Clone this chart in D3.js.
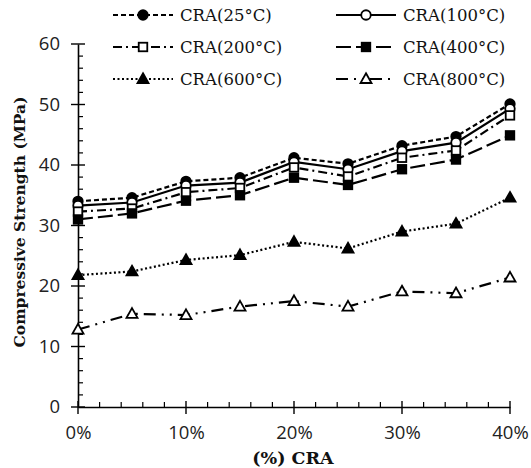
<!DOCTYPE html>
<html>
<head>
<meta charset="utf-8">
<script src="https://cdn.jsdelivr.net/npm/d3@7"></script>
<style>
html,body{margin:0;padding:0;background:#fff;}
svg{display:block;}
</style>
</head>
<body>
<svg id="chart" width="531" height="468"></svg>
<script>
const categories = [0, 5, 10, 15, 20, 25, 30, 35, 40];
const xTickValues = [0, 10, 20, 30, 40];
const yTickValues = [0, 10, 20, 30, 40, 50, 60];
const seriesNames = ["CRA(25°C)", "CRA(100°C)", "CRA(200°C)", "CRA(400°C)", "CRA(600°C)", "CRA(800°C)"];
const cra25  = [34.0, 34.6, 37.3, 37.9, 41.2, 40.2, 43.2, 44.7, 50.1];
const cra100 = [33.3, 33.8, 36.6, 37.1, 40.5, 39.3, 42.3, 43.7, 49.3];
const cra200 = [32.3, 32.8, 35.5, 36.2, 39.6, 38.1, 41.2, 42.4, 48.2];
const cra400 = [31.0, 32.0, 34.1, 35.0, 37.9, 36.7, 39.3, 40.9, 44.9];
const cra600 = [21.8, 22.4, 24.3, 25.1, 27.3, 26.2, 29.0, 30.3, 34.6];
const cra800 = [12.8, 15.4, 15.2, 16.6, 17.5, 16.6, 19.1, 18.8, 21.4];
const xTitle = "(%) CRA";
const yTitle = "Compressive Strength (MPa)";

const styles = [
  {dash: "5,3", marker: "circle", fill: "#000"},
  {dash: null, marker: "circle", fill: "#fff"},
  {dash: "9,4,2,4", marker: "square", fill: "#fff"},
  {dash: "15,5", marker: "square", fill: "#000"},
  {dash: "2,2.5", marker: "triangle", fill: "#000"},
  {dash: "12,6,2,6,2,6", marker: "triangle", fill: "#fff"}
];
const allSeries = [cra25, cra100, cra200, cra400, cra600, cra800];

const svg = d3.select("#chart");
const x = d3.scaleLinear().domain([0, 40]).range([78, 510]);
const y = d3.scaleLinear().domain([0, 60]).range([407, 44]);
const tickFont = "'Open Sans', sans-serif";
const serif = "'DejaVu Serif', serif";

// axes
const yAxis = d3.axisLeft(y).tickValues(yTickValues).tickSize(0).tickFormat(d3.format("d")).tickPadding(18);
const gy = svg.append("g").attr("transform", `translate(${x(0)},0)`).call(yAxis);
const xAxis = d3.axisBottom(x).tickValues(xTickValues).tickSize(0).tickFormat(d => d + "%").tickPadding(19);
const gx = svg.append("g").attr("transform", `translate(0,${y(0)})`).call(xAxis);
[gx, gy].forEach(g => {
  g.select(".domain").attr("stroke", "#000").attr("stroke-width", 1.6);
  g.selectAll("text").attr("font-family", tickFont).attr("font-size", 18.5).attr("fill", "#222");
});
// major ticks crossing, minor ticks inside
const minorY = d3.range(0, 61, 2).filter(v => v % 10 !== 0);
const minorX = d3.range(0, 41, 2).filter(v => v % 10 !== 0);
svg.append("g").selectAll("line").data(yTickValues).join("line")
  .attr("x1", x(0) - 7).attr("x2", x(0) + 7).attr("y1", d => y(d)).attr("y2", d => y(d))
  .attr("stroke", "#000").attr("stroke-width", 1.4);
svg.append("g").selectAll("line").data(minorY).join("line")
  .attr("x1", x(0)).attr("x2", x(0) + 5).attr("y1", d => y(d)).attr("y2", d => y(d))
  .attr("stroke", "#000").attr("stroke-width", 1.2);
svg.append("g").selectAll("line").data(xTickValues).join("line")
  .attr("x1", d => x(d)).attr("x2", d => x(d)).attr("y1", y(0) - 6).attr("y2", y(0) + 7)
  .attr("stroke", "#000").attr("stroke-width", 1.4);
svg.append("g").selectAll("line").data(minorX).join("line")
  .attr("x1", d => x(d)).attr("x2", d => x(d)).attr("y1", y(0) - 5).attr("y2", y(0))
  .attr("stroke", "#000").attr("stroke-width", 1.2);

// titles
svg.append("text").attr("x", 293).attr("y", 464).attr("text-anchor", "middle")
  .attr("font-family", serif).attr("font-weight", "bold").attr("font-size", 17.5).attr("fill", "#111").text(xTitle);
svg.append("text").attr("transform", "translate(25,222) rotate(-90)").attr("text-anchor", "middle")
  .attr("font-family", serif).attr("font-weight", "bold").attr("font-size", 15.5).attr("fill", "#111").text(yTitle);

function drawMarker(g, type, fill, cx, cy, s) {
  if (type === "circle") {
    g.append("circle").attr("cx", cx).attr("cy", cy).attr("r", s * 0.5)
      .attr("fill", fill).attr("stroke", "#000").attr("stroke-width", 1.8);
  } else if (type === "square") {
    g.append("rect").attr("x", cx - s * 0.45).attr("y", cy - s * 0.45).attr("width", s * 0.9).attr("height", s * 0.9)
      .attr("fill", fill).attr("stroke", "#000").attr("stroke-width", 1.8);
  } else {
    g.append("path").attr("d", `M${cx},${cy - s * 0.6}L${cx + s * 0.58},${cy + s * 0.42}L${cx - s * 0.58},${cy + s * 0.42}Z`)
      .attr("fill", fill).attr("stroke", "#000").attr("stroke-width", 1.8).attr("stroke-linejoin", "miter");
  }
}

const line = d3.line().x((d, i) => x(categories[i])).y(d => y(d));
allSeries.forEach((vals, k) => {
  const st = styles[k];
  const g = svg.append("g");
  g.append("path").attr("d", line(vals)).attr("fill", "none").attr("stroke", "#000")
    .attr("stroke-width", 2.2).attr("stroke-dasharray", st.dash);
  vals.forEach((v, i) => drawMarker(g, st.marker, st.fill, x(categories[i]), y(v), 9.5));
});

// legend
const legPos = [[113, 15], [336, 15], [113, 47], [336, 47], [113, 79], [336, 79]];
seriesNames.forEach((name, k) => {
  const st = styles[k];
  const [lx, ly] = legPos[k];
  const g = svg.append("g");
  g.append("line").attr("x1", lx).attr("x2", lx + 60).attr("y1", ly).attr("y2", ly)
    .attr("stroke", "#000").attr("stroke-width", 2.2).attr("stroke-dasharray", st.dash);
  drawMarker(g, st.marker, st.fill, lx + 30, ly, 9.5);
  g.append("text").attr("x", lx + 67).attr("y", ly + 6).attr("font-family", serif)
    .attr("font-size", 16.5).attr("fill", "#111").text(name);
});
</script>
</body>
</html>
